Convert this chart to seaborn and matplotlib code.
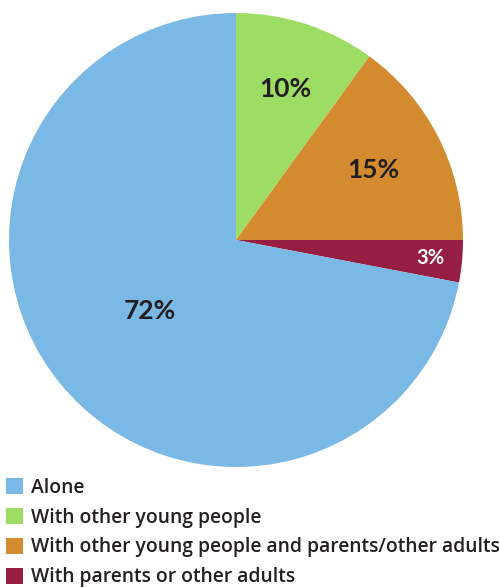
import numpy as np
import matplotlib
matplotlib.use("Agg")
import matplotlib.pyplot as plt
import seaborn as sns

sns.set_theme(style="white")
plt.rcParams["font.family"] = ["Open Sans", "DejaVu Sans"]

# Share of time spent, by company
slice_labels = ["With other young people",
                "With other young people and parents/other adults",
                "With parents or other adults",
                "Alone"]
slice_values = [10, 15, 3, 72]
slice_colors = ["#9EDD63", "#D48B2F", "#961E42", "#7AB8E6"]
pct_colors = ["#231F20", "#231F20", "#FFFFFF", "#231F20"]
pct_sizes = [19, 19, 14.5, 19]
pct_radius = [0.70, 0.68, 0.86, 0.49]

legend_order = ["Alone", "With other young people",
                "With other young people and parents/other adults",
                "With parents or other adults"]

fig = plt.figure(figsize=(5.0, 5.88), dpi=100)
cx, cy, r = 236, 240, 227
W, H = 500, 588
ax = fig.add_axes([(cx - r) / W, (H - cy - r) / H, 2 * r / W, 2 * r / H])

wedges, _ = ax.pie(slice_values, colors=slice_colors, startangle=90,
                   counterclock=False, radius=1.0,
                   wedgeprops=dict(linewidth=0))
ax.set_aspect("equal")
ax.set_xlim(-1, 1)
ax.set_ylim(-1, 1)
ax.axis("off")

for w, v, c, s, d in zip(wedges, slice_values, pct_colors, pct_sizes, pct_radius):
    mid = np.deg2rad((w.theta1 + w.theta2) / 2)
    ax.text(d * np.cos(mid), d * np.sin(mid), f"{v}%", ha="center", va="center",
            color=c, fontsize=s, fontweight="bold",
            family=["Lato", "DejaVu Sans"])

handles = [wedges[slice_labels.index(lbl)] for lbl in legend_order]
leg = fig.legend(handles, legend_order, loc="upper left",
                 bbox_to_anchor=(0.0, 1 - 472 / H), frameon=False,
                 prop=dict(family=["Open Sans", "DejaVu Sans"], weight="semibold", size=13.85),
                 handlelength=0.9, handleheight=0.9,
                 handletextpad=0.4, labelspacing=0.51, borderaxespad=0,
                 borderpad=0.3)
for t in leg.get_texts():
    t.set_color("#231F20")

fig.savefig("out.png", dpi=100, facecolor="white")
